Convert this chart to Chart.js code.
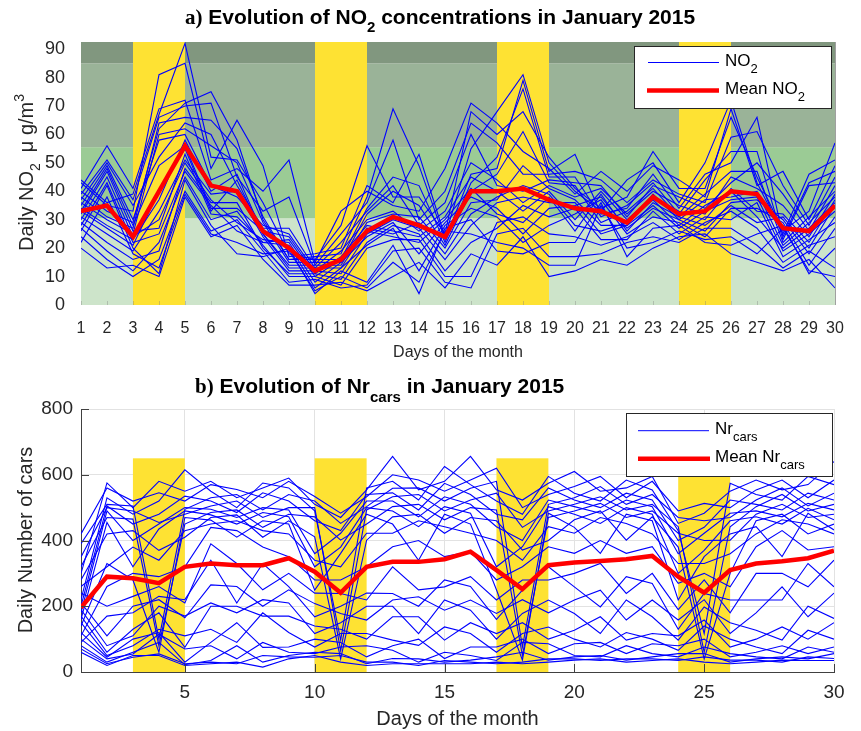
<!DOCTYPE html>
<html><head><meta charset="utf-8">
<script src="https://cdn.jsdelivr.net/npm/chart.js@4.4.1/dist/chart.umd.min.js"></script>
<style>
html,body{margin:0;padding:0;background:#fff;}
#wrap{width:861px;height:731px;}
canvas{display:block;}
</style></head><body>
<div id="wrap">
<canvas id="cA" width="861" height="365"></canvas>
<canvas id="cB" width="861" height="366"></canvas>
</div>
<script>
// ---------- DATA ----------
const days = [1,2,3,4,5,6,7,8,9,10,11,12,13,14,15,16,17,18,19,20,21,22,23,24,25,26,27,28,29,30];
const weekendStart = [3,10,17,24];
const weekendEnd = [5,12,19,26];
const no2Ticks = [0,10,20,30,40,50,60,70,80,90];
const no2Levels = [0,30.5,55.5,85,92.5];
const carsYTicks = [0,200,400,600,800];
const carsXTicks = [5,10,15,20,25,30];
const carsWeekendTop = 650;

const no2Mean = [33,35,24,40,56,42,40,26,20,12,16,26,31,28,24,40,40,41,37,34,33,29,38,32,33,40,39,27,26,35];
const no2St01 = [44,36,39,67,92,52,51,36,18,16,28,56,38,38,25,68,60,68,52,41,34,38,54,41,41,66,45,26,33,57];
const no2St02 = [43,35,33,81,85,48,65,49,17,18,20,42,36,53,24,55,68,81,50,40,33,44,50,36,50,72,43,25,46,51];
const no2St03 = [41,56,41,69,72,44,48,40,51,15,33,40,35,33,48,71,64,54,48,39,47,40,49,44,38,69,42,47,30,49];
const no2St04 = [40,33,29,62,71,75,58,30,16,17,18,38,69,49,23,46,48,79,47,53,32,34,46,34,46,50,66,24,43,47];
const no2St05 = [39,51,37,66,70,71,45,33,38,14,25,36,58,30,40,64,57,46,46,47,44,36,44,39,36,59,61,42,28,45];
const no2St06 = [38,31,27,64,66,65,55,31,16,16,16,34,45,42,22,43,52,76,45,45,31,35,43,32,44,54,54,23,42,43];
const no2St07 = [37,50,35,52,64,60,42,27,27,13,22,33,42,28,36,60,42,40,44,43,42,31,42,38,34,43,50,39,26,42];
const no2St08 = [36,30,25,60,62,56,50,29,15,15,15,32,40,35,21,40,46,61,43,42,29,33,41,31,39,47,47,22,31,40];
const no2St09 = [35,49,30,58,60,42,38,28,25,12,19,30,33,26,33,50,44,36,42,38,41,32,40,35,32,45,41,35,24,39];
const no2St10 = [34,28,23,37,58,40,46,25,14,14,14,29,32,31,20,36,37,49,41,37,28,28,39,30,37,38,40,21,29,38];
const no2St11 = [33,48,28,49,56,34,34,26,24,11,17,28,26,24,31,45,40,33,40,30,40,30,38,33,30,41,33,32,22,37];
const no2St12 = [33,27,21,40,55,33,44,25,13,13,13,27,25,29,18,32,38,42,39,28,26,29,37,28,35,40,31,20,27,36];
const no2St13 = [32,47,26,27,53,32,31,22,23,10,16,26,24,22,30,41,32,29,38,26,39,26,36,31,28,35,29,31,20,35];
const no2St14 = [31,25,19,33,51,39,40,24,12,12,11,25,30,27,16,28,36,38,36,36,25,28,35,27,33,37,38,19,25,33];
const no2St15 = [30,45,24,30,50,37,29,23,22,8,15,24,29,18,29,38,34,25,34,35,38,27,34,30,26,36,37,30,18,31];
const no2St16 = [29,22,16,19,48,36,36,20,11,11,9,22,28,25,12,22,27,35,31,34,23,23,33,25,31,30,36,17,23,29];
const no2St17 = [28,43,22,25,47,35,26,22,21,6,13,21,27,12,28,34,31,22,28,32,37,25,31,29,24,34,34,29,14,27];
const no2St18 = [27,19,12,22,45,30,33,21,10,10,7,20,23,23,10,10,29,31,25,24,21,24,29,23,29,33,27,15,21,24];
const no2St19 = [26,42,20,11,44,28,18,17,20,4,12,8,21,4,27,30,19,18,22,22,36,17,27,28,22,21,25,28,11,20];
const no2St20 = [24,16,10,16,40,26,30,19,8,9,6,7,19,20,8,6,25,27,17,17,18,22,24,22,27,27,21,13,19,13];
const no2St21 = [22,38,18,13,39,25,22,18,19,5,10,6,15,8,26,25,22,20,14,14,35,20,22,26,23,24,18,27,12,10];
const no2St22 = [20,13,14,10,38,24,28,16,7,7,8,5,10,15,6,18,14,24,10,12,16,14,20,24,25,18,15,12,16,6];

const carsMean = [196,290,285,270,320,330,325,325,346,305,241,320,335,335,343,366,310,252,325,333,338,343,353,290,241,310,330,337,346,369];
const carsSt01 = [300,575,500,580,550,580,530,560,590,510,470,554,656,554,580,656,554,523,574,610,550,560,595,452,483,550,584,554,570,640];
const carsSt02 = [420,560,520,545,520,570,555,530,580,534,483,533,600,584,550,584,620,500,540,564,595,530,580,490,513,500,554,584,530,584];
const carsSt03 = [220,530,480,520,615,550,500,575,560,490,97,560,580,523,625,570,520,480,595,544,520,584,554,430,117,574,540,523,595,570];
const carsSt04 = [390,510,505,100,495,530,540,493,540,520,452,503,559,560,520,559,580,76,510,530,564,510,540,470,460,470,523,560,505,544];
const carsSt05 = [200,505,450,480,535,520,485,545,520,460,430,540,545,493,574,540,480,463,560,523,500,544,523,400,440,523,510,493,544,523];
const carsSt06 = [350,500,490,455,480,505,520,470,500,500,65,493,533,540,490,523,544,440,490,510,533,493,510,442,60,442,503,540,490,510];
const carsSt07 = [180,490,400,450,500,495,470,500,493,360,422,520,520,472,533,510,442,400,523,503,483,523,503,360,422,483,490,472,513,493];
const carsSt08 = [320,470,465,80,450,485,493,440,480,472,401,450,503,510,463,500,493,50,470,490,513,470,490,422,400,401,480,510,470,480];
const carsSt09 = [160,455,320,435,490,478,450,485,472,320,380,500,490,442,503,483,320,381,503,480,452,500,480,300,370,460,472,450,498,463];
const carsSt10 = [280,420,430,370,410,470,478,410,460,411,40,401,472,480,422,470,460,371,400,463,490,401,472,380,40,300,460,480,420,450];
const carsSt11 = [140,330,280,60,470,462,410,460,450,249,361,480,450,340,480,450,250,36,483,440,361,480,460,219,351,420,442,351,483,432];
const carsSt12 = [260,320,380,340,430,450,460,430,420,340,320,422,422,460,442,422,400,340,442,422,470,452,420,330,330,360,420,463,450,420];
const carsSt13 = [110,260,300,290,320,440,430,380,351,280,280,320,381,400,351,366,280,320,381,361,400,361,381,270,300,259,381,430,371,381];
const carsSt14 = [240,200,230,260,210,390,330,250,300,240,239,219,320,250,259,290,219,280,280,300,330,239,300,190,280,180,300,300,259,340];
const carsSt15 = [90,170,180,230,220,340,210,330,260,168,200,240,239,200,280,260,160,249,320,259,198,290,269,130,239,219,219,219,330,259];
const carsSt16 = [210,110,200,220,165,265,260,200,250,208,178,158,219,229,188,219,178,220,180,219,249,158,219,158,220,117,180,259,168,240];
const carsSt17 = [190,80,110,200,170,210,180,220,210,117,150,200,200,117,219,188,100,178,219,178,117,219,168,97,198,150,127,97,200,163];
const carsSt18 = [170,60,130,180,75,200,200,170,170,140,130,100,168,168,97,150,117,150,100,127,168,97,117,110,158,76,100,137,100,150];
const carsSt19 = [150,50,80,130,110,130,90,180,120,76,117,117,97,81,137,117,60,117,137,100,76,120,100,66,140,100,76,56,127,100];
const carsSt20 = [120,45,100,120,30,90,150,75,76,100,90,46,80,100,41,76,76,100,56,86,90,56,86,80,100,46,60,80,56,76];
const carsSt21 = [100,40,55,115,70,80,40,90,60,56,76,80,66,30,60,50,35,90,86,50,46,80,56,46,76,56,46,40,76,60];
const carsSt22 = [80,30,60,90,22,35,80,30,50,60,56,25,41,40,30,36,46,60,36,46,50,36,46,56,56,30,40,46,40,56];
const carsSt23 = [70,25,45,55,25,30,25,50,46,45,50,30,30,20,35,30,25,30,40,40,35,40,40,35,46,36,36,30,46,41];
const carsSt24 = [60,20,50,50,20,25,30,15,40,50,30,20,25,25,25,25,30,25,30,36,40,30,35,40,30,25,30,36,35,35];

const no2Stations = [no2St01,no2St02,no2St03,no2St04,no2St05,no2St06,no2St07,no2St08,no2St09,no2St10,no2St11,
  no2St12,no2St13,no2St14,no2St15,no2St16,no2St17,no2St18,no2St19,no2St20,no2St21,no2St22];
const carsStations = [carsSt01,carsSt02,carsSt03,carsSt04,carsSt05,carsSt06,carsSt07,carsSt08,carsSt09,carsSt10,
  carsSt11,carsSt12,carsSt13,carsSt14,carsSt15,carsSt16,carsSt17,carsSt18,carsSt19,carsSt20,carsSt21,carsSt22,carsSt23,carsSt24];

// ---------- STYLE ----------
const SANS = '"Liberation Sans", Arial, Helvetica, sans-serif';
const SERIF = '"Liberation Serif", "Times New Roman", serif';
const TXT = '#262626';
const BLUE = '#0000ff';
const RED = '#ff0000';
const YELLOW = '#fee233';
const levelColors = ['#cde4ca', '#9bcb95', '#9ab398', '#81977f'];

function pts(arr) { return arr.map((v, i) => ({ x: days[i], y: v })); }
function meanDs(arr, label) {
  return { label, data: pts(arr), borderColor: RED, borderWidth: 4.5, pointRadius: 0, fill: false, tension: 0 };
}
function blueDs(arr, label) {
  return { label, data: pts(arr), borderColor: BLUE, borderWidth: 1.1, pointRadius: 0, fill: false, tension: 0 };
}

function drawRich(ctx, x, y, parts, align) {
  let w = 0;
  parts.forEach(p => { ctx.font = p.font; p.w = ctx.measureText(p.text).width; w += p.w; });
  let cx = align === 'center' ? x - w / 2 : x;
  ctx.textAlign = 'left';
  ctx.textBaseline = 'alphabetic';
  parts.forEach(p => { ctx.font = p.font; ctx.fillText(p.text, cx, y + (p.dy || 0)); cx += p.w; });
}
function hline(ctx, x0, x1, y, color, w) {
  ctx.beginPath(); ctx.strokeStyle = color; ctx.lineWidth = w; ctx.lineCap = 'butt';
  ctx.moveTo(x0, y); ctx.lineTo(x1, y); ctx.stroke();
}

// ---------- CHART A ----------
const bandsA = {
  id: 'bandsA',
  beforeDatasetsDraw(chart) {
    const { ctx, chartArea: a, scales: { x, y } } = chart;
    ctx.save();
    for (let i = 0; i < no2Levels.length - 1; i++) {
      const yt = y.getPixelForValue(no2Levels[i + 1]);
      const yb = y.getPixelForValue(no2Levels[i]);
      ctx.fillStyle = levelColors[i];
      ctx.fillRect(a.left, yt, a.right - a.left, yb - yt);
    }
    ctx.fillStyle = YELLOW;
    weekendStart.forEach((s, i) => {
      const x0 = x.getPixelForValue(s), x1 = x.getPixelForValue(weekendEnd[i]);
      ctx.fillRect(x0, a.top, x1 - x0, a.bottom - a.top);
    });
    ctx.strokeStyle = 'rgba(120,120,120,0.35)'; ctx.lineWidth = 1;
    x.ticks.forEach(t => {
      const px = Math.round(x.getPixelForValue(t.value)) + 0.5;
      ctx.beginPath(); ctx.moveTo(px, a.bottom); ctx.lineTo(px, a.bottom - 4); ctx.stroke();
    });
    ctx.restore();
  },
  afterDraw(chart) {
    const { ctx, chartArea: a } = chart;
    ctx.save();
    ctx.strokeStyle = '#a0a0a0'; ctx.lineWidth = 1;
    ctx.beginPath(); ctx.moveTo(a.right + 0.5, a.top); ctx.lineTo(a.right + 0.5, a.bottom); ctx.stroke();
    ctx.fillStyle = '#000';
    drawRich(ctx, 185, 24, [
      { text: 'a)', font: 'bold 21px ' + SERIF },
      { text: ' Evolution of NO', font: 'bold 21px ' + SANS },
      { text: '2', font: 'bold 15px ' + SANS, dy: 7.5 },
      { text: ' concentrations in January 2015', font: 'bold 21px ' + SANS }
    ], 'left');
    ctx.fillStyle = TXT;
    ctx.save();
    ctx.translate(33, 172.5);
    ctx.rotate(-Math.PI / 2);
    drawRich(ctx, 0, 0, [
      { text: 'Daily NO', font: '20px ' + SANS },
      { text: '2', font: '14px ' + SANS, dy: 7 },
      { text: '  \u03bc g/m', font: '20px ' + SANS },
      { text: '3', font: '14px ' + SANS, dy: -9 }
    ], 'center');
    ctx.restore();
    ctx.fillStyle = '#fff';
    ctx.fillRect(634.5, 46.5, 197, 62);
    ctx.strokeStyle = '#262626'; ctx.lineWidth = 1;
    ctx.strokeRect(634.5, 46.5, 197, 62);
    hline(ctx, 648, 719, 62.5, BLUE, 1);
    hline(ctx, 647, 719, 90.5, RED, 4.5);
    ctx.fillStyle = '#000';
    drawRich(ctx, 725, 66, [
      { text: 'NO', font: '17px ' + SANS },
      { text: '2', font: '13px ' + SANS, dy: 7 }
    ], 'left');
    drawRich(ctx, 725, 94, [
      { text: 'Mean NO', font: '17px ' + SANS },
      { text: '2', font: '13px ' + SANS, dy: 7 }
    ], 'left');
    ctx.restore();
  }
};

const dsA = [meanDs(no2Mean, 'Mean NO2')].concat(no2Stations.map((s, i) => blueDs(s, 'NO2 station ' + (i + 1))));

new Chart(document.getElementById('cA'), {
  type: 'line',
  data: { datasets: dsA },
  options: {
    responsive: false, animation: false, devicePixelRatio: 1,
    layout: { padding: { top: 42, right: 26, left: 0, bottom: 0 } },
    plugins: { legend: { display: false }, tooltip: { enabled: false }, title: { display: false } },
    scales: {
      x: {
        type: 'linear', min: 1, max: 30,
        afterFit: s => { s.height = 60; },
        afterBuildTicks: s => { s.ticks = days.map(v => ({ value: v })); },
        grid: { display: false }, border: { display: false },
        ticks: { autoSkip: false, maxRotation: 0, minRotation: 0, padding: 6, color: TXT,
                 font: { family: SANS, size: 16 } },
        title: { display: true, text: 'Days of the month', color: TXT,
                 font: { family: SANS, size: 16 }, padding: { top: 0, bottom: 3 } }
      },
      y: {
        min: 0, max: 92.5,
        afterFit: s => { s.width = 81; },
        afterBuildTicks: s => { s.ticks = no2Ticks.map(v => ({ value: v })); },
        grid: { display: false }, border: { display: false },
        ticks: { padding: 8, color: TXT, font: { family: SANS, size: 18 } }
      }
    }
  },
  plugins: [bandsA]
});

// ---------- CHART B ----------
const bandsB = {
  id: 'bandsB',
  beforeDatasetsDraw(chart) {
    const { ctx, chartArea: a, scales: { x, y } } = chart;
    ctx.save();
    ctx.fillStyle = YELLOW;
    const yt = y.getPixelForValue(carsWeekendTop), yb = y.getPixelForValue(0);
    weekendStart.forEach((s, i) => {
      const x0 = x.getPixelForValue(s), x1 = x.getPixelForValue(weekendEnd[i]);
      ctx.fillRect(x0, yt, x1 - x0, yb - yt);
    });
    ctx.restore();
  },
  afterDraw(chart) {
    const { ctx, chartArea: a, scales: { x, y } } = chart;
    ctx.save();
    ctx.strokeStyle = '#404040'; ctx.lineWidth = 1;
    y.ticks.forEach(t => {
      const py = Math.round(y.getPixelForValue(t.value)) + 0.5;
      ctx.beginPath(); ctx.moveTo(a.left, py); ctx.lineTo(a.left + 8, py); ctx.stroke();
    });
    x.ticks.forEach(t => {
      const px = Math.round(x.getPixelForValue(t.value)) + 0.5;
      ctx.beginPath(); ctx.moveTo(px, a.bottom); ctx.lineTo(px, a.bottom - 8); ctx.stroke();
    });
    ctx.fillStyle = '#000';
    drawRich(ctx, 195, 27.7, [
      { text: 'b)', font: 'bold 21px ' + SERIF },
      { text: ' Evolution of Nr', font: 'bold 21px ' + SANS },
      { text: 'cars', font: 'bold 15px ' + SANS, dy: 9 },
      { text: ' in January 2015', font: 'bold 21px ' + SANS }
    ], 'left');
    ctx.fillStyle = TXT;
    ctx.save();
    ctx.translate(32, 175);
    ctx.rotate(-Math.PI / 2);
    drawRich(ctx, 0, 0, [{ text: 'Daily Number of cars', font: '20px ' + SANS }], 'center');
    ctx.restore();
    ctx.fillStyle = '#fff';
    ctx.fillRect(626.5, 48.5, 206, 63);
    ctx.strokeStyle = '#262626'; ctx.lineWidth = 1;
    ctx.strokeRect(626.5, 48.5, 206, 63);
    hline(ctx, 638, 709, 65.7, BLUE, 1);
    hline(ctx, 638, 710, 93.7, RED, 4.5);
    ctx.fillStyle = '#000';
    drawRich(ctx, 715, 69.3, [
      { text: 'Nr', font: '17px ' + SANS },
      { text: 'cars', font: '13px ' + SANS, dy: 6.5 }
    ], 'left');
    drawRich(ctx, 715, 97.3, [
      { text: 'Mean Nr', font: '17px ' + SANS },
      { text: 'cars', font: '13px ' + SANS, dy: 6.5 }
    ], 'left');
    ctx.restore();
  }
};

const dsB = [meanDs(carsMean, 'Mean Nr cars')].concat(carsStations.map((s, i) => blueDs(s, 'Nr cars station ' + (i + 1))));

new Chart(document.getElementById('cB'), {
  type: 'line',
  data: { datasets: dsB },
  options: {
    responsive: false, animation: false, devicePixelRatio: 1,
    layout: { padding: { top: 44, right: 27, left: 0, bottom: 0 } },
    plugins: { legend: { display: false }, tooltip: { enabled: false }, title: { display: false } },
    scales: {
      x: {
        type: 'linear', min: 1, max: 30,
        afterFit: s => { s.height = 59; },
        afterBuildTicks: s => { s.ticks = carsXTicks.map(v => ({ value: v })); },
        grid: { display: true, color: '#e2e2e2', drawTicks: false },
        border: { display: true, color: '#404040', width: 1 },
        ticks: { autoSkip: false, maxRotation: 0, minRotation: 0, padding: 9, color: TXT,
                 font: { family: SANS, size: 19 } },
        title: { display: true, text: 'Days of the month', color: TXT,
                 font: { family: SANS, size: 20 }, padding: { top: 0, bottom: 0 } }
      },
      y: {
        min: 0, max: 800,
        afterFit: s => { s.width = 81; },
        afterBuildTicks: s => { s.ticks = carsYTicks.map(v => ({ value: v })); },
        grid: { display: true, color: '#e2e2e2', drawTicks: false },
        border: { display: true, color: '#404040', width: 1 },
        ticks: { padding: 8, color: TXT, font: { family: SANS, size: 19 } }
      }
    }
  },
  plugins: [bandsB]
});
</script>
</body></html>
